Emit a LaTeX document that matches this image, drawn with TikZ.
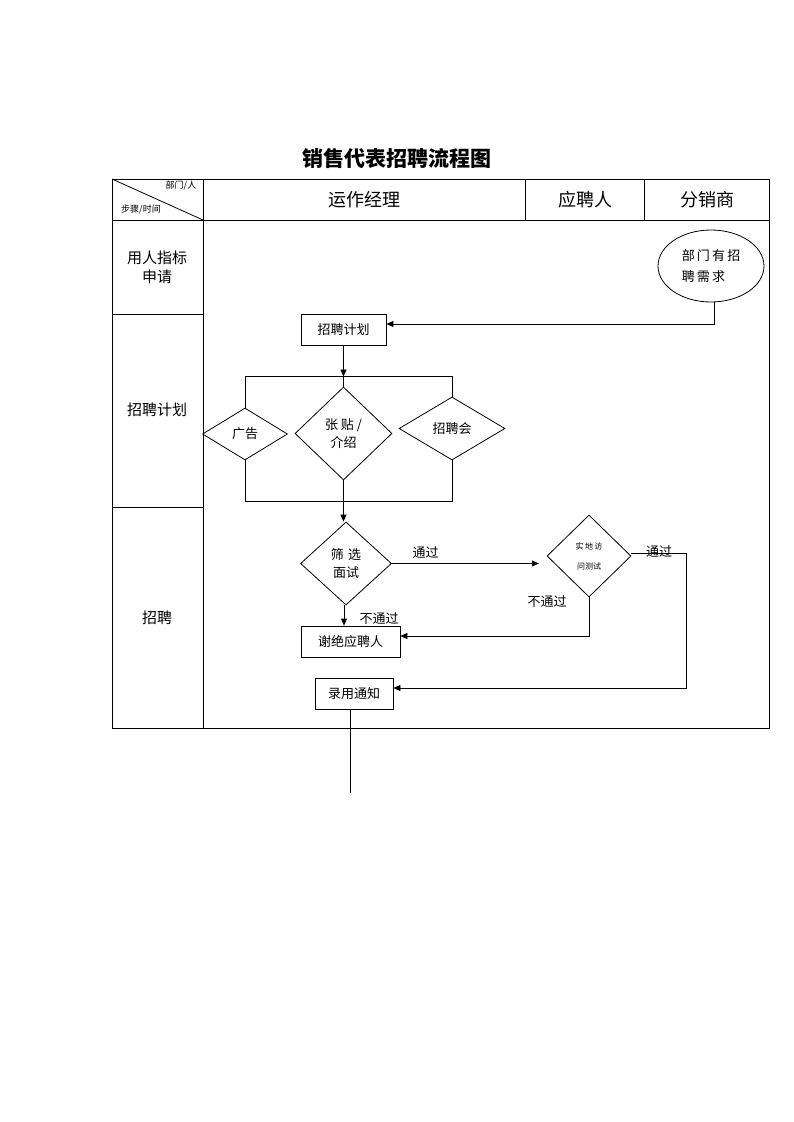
\documentclass[tikz,border=0pt]{standalone}
\usepackage{fontspec}
\setmainfont{Noto Sans CJK SC}
\newfontfamily\cjk{Noto Sans CJK SC}
\usetikzlibrary{shapes.geometric,arrows.meta}
\tikzset{
  ln/.style={line width=0.8pt},
  arr/.style={ln,-{Triangle[length=7pt,width=6pt]}},
  box/.style={draw,ln,rectangle,inner sep=0pt,font=\fontsize{13}{15}\selectfont},
  dia/.style={draw,ln,diamond,inner sep=0pt,font=\fontsize{13}{18}\selectfont,align=center},
  hd/.style={font=\fontsize{18}{20}\selectfont},
  lf/.style={font=\fontsize{15}{19}\selectfont,align=center},
  lab/.style={font=\fontsize{13}{15}\selectfont},
}
\begin{document}
\begin{tikzpicture}[x=1pt,y=-1pt]
\useasboundingbox (0,0) rectangle (793,1122);
% title
\node[font=\fontsize{21}{23}\selectfont\bfseries] (title) at (397,158) {销售代表招聘流程图};
% table
\draw[ln] (112,179) rectangle (769,728);
\draw[ln] (112,220) -- (769,220);
\draw[ln] (203,179) -- (203,728);
\draw[ln] (525,179) -- (525,220);
\draw[ln] (644,179) -- (644,220);
\draw[ln] (112,314) -- (203,314);
\draw[ln] (112,507) -- (203,507);
\draw[ln] (112,179) -- (203,220);
\node[font=\fontsize{9}{10}\selectfont] (h1) at (181,186) {部门/人};
\node[font=\fontsize{9}{10}\selectfont] (h2) at (141,210) {步骤/时间};
\node[hd] (c1) at (364,200) {运作经理};
\node[hd] (c2) at (585,200) {应聘人};
\node[hd] (c3) at (707,200) {分销商};
\node[lf] (r1) at (157,267) {用人指标\\申请};
\node[lf] (r2) at (157,410) {招聘计划};
\node[lf] (r3) at (157,618) {招聘};
% nodes
\node[draw,ln,ellipse,minimum width=106pt,minimum height=72pt,font=\fontsize{13}{21}\selectfont,align=left] (need) at (711,266) {部\,门\,有\,招\\聘\,需\,求};
\node[box,minimum width=85pt,minimum height=31pt] (plan) at (343.5,329.5) {招聘计划};
\node[dia,minimum width=85pt,minimum height=52pt] (ad) at (245,434) {广告};
\node[dia,minimum width=97pt,minimum height=93pt] (post) at (343.5,433.5) {张 贴 /\\介绍};
\node[dia,minimum width=106pt,minimum height=63pt] (fair) at (452,428.5) {招聘会};
\node[dia,minimum width=91pt,minimum height=83pt] (screen) at (346,563.5) {筛\,\,选\\面试};
\node[dia,minimum width=84pt,minimum height=82pt,font=\fontsize{8}{20}\selectfont] (field) at (589,556) {实\,地\,访\\问测试};
\node[box,minimum width=99pt,minimum height=31pt] (reject) at (350.5,641.5) {谢绝应聘人};
\node[box,minimum width=78pt,minimum height=31pt] (hire) at (354,693.5) {录用通知};
% coordinates
\coordinate (brt) at (343.5,376.5);
\coordinate (brb) at (343.5,501);
\coordinate (e1) at (714,324);
\coordinate (f1) at (589,636);
\coordinate (g1) at (686,553);
\coordinate (g2) at (686,688);
\coordinate (endp) at (350,793);
\coordinate (sx) at (344,0);
% connectors
\draw[arr] (need.south -| e1) -- (e1) -- (plan.east |- e1);
\draw[arr] (plan.south) -- (brt);
\draw[ln] (ad.north) -- (ad.north |- brt) -- (fair.north |- brt) -- (fair.north);
\draw[ln] (post.north) -- (brt);
\draw[ln] (ad.south) -- (ad.south |- brb) -- (fair.south |- brb) -- (fair.south);
\draw[arr] (post.south) -- (post.south |- screen.north);
\draw[arr] (screen.east) -- node[lab,above,pos=0.23,yshift=1pt] {通过} ++(147,0);
\draw[arr] (field.south) -- (f1) -- (reject.east |- f1);
\node[lab] (np1) at (547,602) {不通过};
\draw[arr] (screen.south -| sx) -- (sx |- reject.north);
\node[lab] (np2) at (379,619) {不通过};
\draw[arr] (field.east |- g1) -- (g1) -- (g2) -- (hire.east |- g2);
\node[lab] (p2) at (659,552) {通过};
\draw[ln] (hire.south -| endp) -- (endp);
\end{tikzpicture}
\end{document}
